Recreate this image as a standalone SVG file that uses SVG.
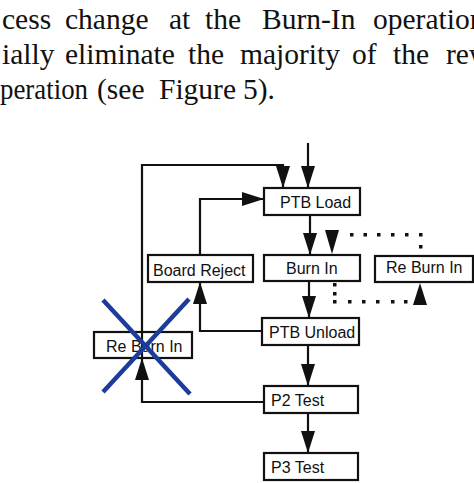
<svg xmlns="http://www.w3.org/2000/svg" width="474" height="483" viewBox="0 0 474 483">
<style>
.para{font-family:"Liberation Serif","Times New Roman",serif;font-size:29.5px;fill:#111}
.box{fill:#fff;stroke:#111;stroke-width:2.2}
.lbl{font-family:"Liberation Sans",Arial,sans-serif;font-size:16px;fill:#111}
.con{fill:none;stroke:#111;stroke-width:2.2}
.dot{fill:#111}
.cross{stroke:#1c3c9c;stroke-width:4.5;stroke-linecap:butt}
</style>
<defs>
<marker id="ah" markerUnits="userSpaceOnUse" markerWidth="22" markerHeight="14" refX="22" refY="7" orient="auto" viewBox="0 0 22 14">
<path d="M0,0 L22,7 L0,14z" fill="#111"/>
</marker>
</defs>
<rect width="474" height="483" fill="#fff"/>
<g id="paragraph" class="para">
<text y="29"><tspan x="2">cess</tspan><tspan x="65">change</tspan><tspan x="169">at</tspan><tspan x="205">the</tspan><tspan x="262">Burn-In</tspan><tspan x="373">operation</tspan></text>
<text y="64"><tspan x="2">ially</tspan><tspan x="65">eliminate</tspan><tspan x="188">the</tspan><tspan x="240">majority</tspan><tspan x="352">of</tspan><tspan x="393">the</tspan><tspan x="446">rew</tspan></text>
<text y="99" x="0" textLength="88" lengthAdjust="spacingAndGlyphs">peration</text>
<text y="99"><tspan x="97">(see</tspan><tspan x="159">Figure</tspan><tspan x="243">5).</tspan></text>
</g>
<g id="connectors">
<path class="con" d="M308,143 V188" marker-end="url(#ah)"/>
<path class="con" d="M142,332 V165 H283 V188" marker-end="url(#ah)"/>
<path class="con" d="M200,255 V199 H264" marker-end="url(#ah)"/>
<path class="con" d="M310,215 V255" marker-end="url(#ah)"/>
<path class="con" d="M309,281 V318" marker-end="url(#ah)"/>
<path class="con" d="M262,331 H200 V282" marker-end="url(#ah)"/>
<path class="con" d="M308,345 V386" marker-end="url(#ah)"/>
<path class="con" d="M264,402 H142 V358" marker-end="url(#ah)"/>
<path class="con" d="M308,413 V453" marker-end="url(#ah)"/>
<g id="dotted-upper">
<rect class="dot" x="350" y="233" width="3.5" height="3.5"/>
<rect class="dot" x="363.5" y="233" width="3.5" height="3.5"/>
<rect class="dot" x="377" y="233" width="3.5" height="3.5"/>
<rect class="dot" x="391" y="233" width="3.5" height="3.5"/>
<rect class="dot" x="405" y="233" width="3.5" height="3.5"/>
<rect class="dot" x="419" y="233" width="3.5" height="3.5"/>
<rect class="dot" x="419" y="245" width="3.5" height="3.5"/>
<polygon points="325,230 339,230 332,254" fill="#111"/>
</g>
<g id="dotted-lower">
<rect class="dot" x="333" y="283" width="3.5" height="3.5"/>
<rect class="dot" x="333" y="292" width="3.5" height="3.5"/>
<rect class="dot" x="333" y="300" width="3.5" height="3.5"/>
<rect class="dot" x="348" y="300" width="3.5" height="3.5"/>
<rect class="dot" x="362" y="300" width="3.5" height="3.5"/>
<rect class="dot" x="376" y="300" width="3.5" height="3.5"/>
<rect class="dot" x="391" y="300" width="3.5" height="3.5"/>
<rect class="dot" x="404" y="300" width="3.5" height="3.5"/>
<polygon points="413,305 427,305 420,283" fill="#111"/>
</g>
</g>
<g id="ptb-load"><rect class="box" x="264" y="188" width="96" height="27"/><text class="lbl" x="280" y="208">PTB Load</text></g>
<g id="burn-in"><rect class="box" x="264" y="255" width="96" height="26"/><text class="lbl" x="286" y="274">Burn In</text></g>
<g id="re-burn-in-right"><rect class="box" x="375" y="256" width="98" height="26"/><text class="lbl" x="386" y="273">Re Burn In</text></g>
<g id="board-reject"><rect class="box" x="148" y="255" width="105" height="27"/><text class="lbl" x="153" y="276">Board Reject</text></g>
<g id="ptb-unload"><rect class="box" x="262" y="318" width="97" height="27"/><text class="lbl" x="269" y="338">PTB Unload</text></g>
<g id="re-burn-in-left"><rect class="box" x="94" y="332" width="98" height="26"/><text class="lbl" x="106" y="352">Re Burn In</text><path class="con" d="M142,332 V358"/></g>
<g id="p2-test"><rect class="box" x="264" y="386" width="94" height="27"/><text class="lbl" x="271" y="406">P2 Test</text></g>
<g id="p3-test"><rect class="box" x="264" y="453" width="94" height="27"/><text class="lbl" x="271" y="473">P3 Test</text></g>
<g id="cross">
<line class="cross" x1="103" y1="300" x2="190" y2="394"/>
<line class="cross" x1="189" y1="299" x2="103" y2="392"/>
</g>
</svg>
